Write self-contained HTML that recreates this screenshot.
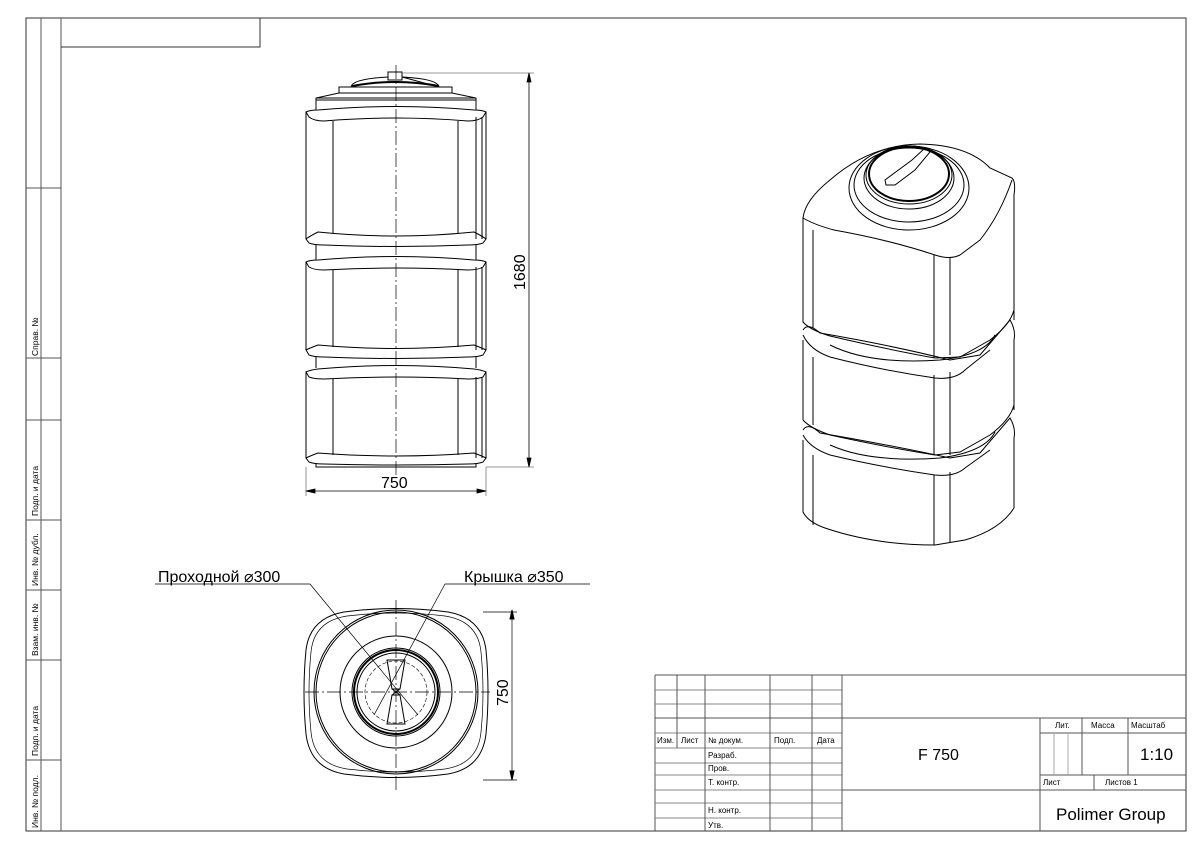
<!DOCTYPE html>
<html><head><meta charset="utf-8"><style>
body{margin:0;background:#fff}
svg{display:block}
text{font-family:"Liberation Sans",sans-serif;fill:#000}
</style></head><body>
<svg width="1200" height="849" viewBox="0 0 1200 849" xmlns="http://www.w3.org/2000/svg">
<g fill="none" stroke="#333" stroke-width="1">
<path d="M26 18H1186V831H26Z" />
<path d="M41 18V831M61 18V831" stroke="#555"/>
<path d="M61 47H260V18" />
<path d="M26 188H61M26 358H61M26 420H61M26 520H61M26 590H61M26 660H61M26 760H61" stroke="#555"/>
</g>
<g font-size="8.5">
<text transform="translate(38,356) rotate(-90)">Справ. №</text>
<text transform="translate(38,516) rotate(-90)">Подп. и дата</text>
<text transform="translate(38,586) rotate(-90)">Инв. № дубл.</text>
<text transform="translate(38,656) rotate(-90)">Взам. инв. №</text>
<text transform="translate(38,756) rotate(-90)">Подп. и дата</text>
<text transform="translate(38,828) rotate(-90)">Инв. № подл.</text>
</g>
<!-- title block -->
<g fill="none" stroke="#555" stroke-width="1">
<path d="M655 675H1186M655 675V831"/>
<path d="M655 690H842M655 704H842M655 733H842M655 748H842M655 763H842M655 775H842M655 790H842M655 803H842M655 818H842" stroke="#888"/>
<path d="M655 718H1186M842 790H1186M1040 733H1186M1040 775H1186"/>
<path d="M677 675V748M705 675V831M770 675V831M812 675V831M842 675V831M1040 718V831M1082 718V775M1128 718V775M1094 775V790"/>
<path d="M1054 733V775M1068 733V775" stroke="#aaa"/>
</g>
<g font-size="8">
<text x="657" y="743">Изм.</text><text x="681" y="743">Лист</text><text x="708" y="743">№ докум.</text><text x="774" y="743">Подп.</text><text x="817" y="743">Дата</text>
<text x="708" y="758">Разраб.</text><text x="708" y="771">Пров.</text><text x="708" y="785">Т. контр.</text>
<text x="708" y="813">Н. контр.</text><text x="708" y="828">Утв.</text>
<text x="1055" y="728">Лит.</text><text x="1091" y="728">Масса</text><text x="1131" y="728">Масштаб</text>
<text x="1043" y="785">Лист</text><text x="1105" y="785">Листов 1</text>
</g>
<text x="918" y="760" font-size="16">F 750</text>
<text x="1140" y="760" font-size="17">1:10</text>
<text x="1056" y="820" font-size="17">Polimer Group</text>

<!-- front view -->
<g fill="none" stroke="#000" stroke-width="1">
<path d="M396 65V475" stroke-dasharray="14 3 2 3" stroke-width="0.7"/>
<rect x="388" y="72" width="14" height="8"/>
<path d="M351 87Q352 79 388 77M402 77Q438 79 439 87Z" />
<path d="M352 86Q395 78 439 86" stroke-width="2"/>
<path d="M339 93V87H452V93"/>
<path d="M316 110V98L339 93H452L476 98V110M316 98H476M316 100H476"/>
<path d="M306 112Q310 110 318 110Q396 103 474 110Q482 110 486 112L483 117Q478 121 468 121Q396 115 324 121Q314 121 309 117Z"/>
<path d="M306 112V239M486 112V239M333 121V233M458 121V233M476 117V239M482 117V239" />
<path d="M306 239Q310 236 318 232Q396 240 474 232Q482 236 486 239L483 243Q478 245 468 245Q396 248 324 245Q314 245 309 243Z"/>
<path d="M306 262Q310 260 318 260Q396 253 474 260Q482 260 486 262L483 267Q478 270 468 270Q396 266 324 270Q314 270 309 267Z"/>
<path d="M306 262V350M486 262V350M333 270V347M458 270V347M476 267V350M482 267V350M316 245V260M476 245V260"/>
<path d="M306 350Q310 348 318 345Q396 352 474 345Q482 348 486 350L483 355Q478 357 468 357Q396 360 324 357Q314 357 309 355Z"/>
<path d="M316 357V368M476 357V368"/>
<path d="M306 372Q310 370 318 369Q396 362 474 369Q482 370 486 372L483 377Q478 379 468 379Q396 375 324 379Q314 379 309 377Z"/>
<path d="M306 372V458M486 372V458M333 379V455M458 379V455M476 377V458M482 377V458"/>
<path d="M306 458Q310 456 318 453Q396 459 474 453Q482 456 486 458L483 462Q478 464 468 464Q396 466 324 464Q314 464 309 462Z"/>
<path d="M316 464V467H476V464"/>
</g>
<g fill="none" stroke="#777" stroke-width="0.8">
<path d="M402 73H534M486 467H534M306 467V496M486 467V496"/>
</g>
<g fill="none" stroke="#000" stroke-width="0.8">
<path d="M529 73V467M306 491H486"/>
<path d="M529 73l-2 9h4zM529 467l-2 -9h4zM306 491l9 -2v4zM486 491l-9 -2v4z" fill="#000"/>
</g>
<text x="381" y="488" font-size="16">750</text>
<text transform="translate(525,290) rotate(-90)" font-size="16">1680</text>

<!-- top view -->
<g fill="none" stroke="#000" stroke-width="1">
<path d="M305 692H490M396 600V790" stroke-dasharray="14 3 2 3" stroke-width="0.7"/>
<path d="M344 612Q396 605 448 612Q482 618 486 650Q490 692 486 734Q482 768 448 774Q396 781 344 774Q310 768 306 734Q302 692 306 650Q310 618 344 612Z"/>
<path d="M347 616Q396 610 445 616Q478 621 481 652Q485 692 481 732Q478 764 445 769Q396 775 347 769Q314 764 311 732Q307 692 311 652Q314 621 347 616Z" stroke-width="0.7"/>
<circle cx="396" cy="692" r="82"/>
<circle cx="396" cy="692" r="80"/>
<circle cx="396" cy="692" r="56"/>
<circle cx="396" cy="692" r="44"/>
<circle cx="396" cy="692" r="42" stroke-width="2"/>
<circle cx="396" cy="692" r="39"/>
<circle cx="396" cy="692" r="31" stroke-dasharray="4 2" stroke-width="0.6"/>
<path d="M387 660L405 660L400 689H392ZM392 695H400L405 724H387Z"/>
<path d="M392 689L400 695M400 689L392 695"/>
<path d="M310 584L418 715M445 584L374 715" stroke-width="0.7"/>
<path d="M155 584H310M445 584H590" stroke-width="0.7"/>
<path d="M483 612H517M483 780H517M512 610V780" stroke-width="0.7"/>
<path d="M512 610l-2 9h4zM512 780l-2 -9h4z" fill="#000"/>
</g>
<text x="158" y="582" font-size="16">Проходной ⌀300</text>
<text x="464" y="582" font-size="16">Крышка ⌀350</text>
<text transform="translate(508,706) rotate(-90)" font-size="16">750</text>

<!-- isometric view -->
<g fill="none" stroke="#000" stroke-width="1">
<path d="M803 218Q805 200 830 180Q870 145 920 144Q968 145 990 168L1012 178Q1016 182 1014 195V320"/>
<path d="M803 218Q815 225 834 230Q890 240 935 255Q950 260 960 255L980 240Q1000 215 1012 180"/>
<ellipse cx="909" cy="188" rx="60" ry="42"/>
<ellipse cx="909" cy="185" rx="55" ry="37"/>
<ellipse cx="909" cy="178" rx="45" ry="31"/>
<ellipse cx="909" cy="175" rx="43" ry="29"/>
<ellipse cx="909" cy="174" rx="40" ry="27" stroke-width="2"/>
<path d="M885 180L912 160L925 148L930 152L915 170L895 185L886 185Z"/>
<path d="M803 218V322Q810 330 830 336Q890 350 935 358L960 357L990 340Q1010 325 1014 310"/>
<path d="M813 230V328M934 255V358M950 258V355"/>
<path d="M803 330Q808 322 820 333Q890 345 950 360L980 355L1010 320Q1016 330 1014 340V410"/>
<path d="M803 335Q810 350 830 357Q880 370 935 378Q955 380 965 370L990 350"/>
<path d="M803 340V420M813 357V425M934 375V455M950 372V455"/>
<path d="M830 345Q870 365 940 360Q985 355 995 335"/>
<path d="M803 420Q810 428 830 435Q890 448 935 455L960 452L990 435Q1010 420 1014 405"/>
<path d="M803 430Q808 422 820 433Q890 445 950 458L980 453L1010 418Q1016 428 1014 438V508"/>
<path d="M803 435Q810 448 830 455Q880 467 935 475Q955 477 965 468L990 450"/>
<path d="M830 445Q870 463 940 458Q985 452 995 432"/>
<path d="M803 440V512Q808 522 825 528Q875 545 935 545L965 540Q1000 530 1014 508"/>
<path d="M813 455V525M934 475V545M950 472V542"/>
</g>
</svg>
</body></html>
